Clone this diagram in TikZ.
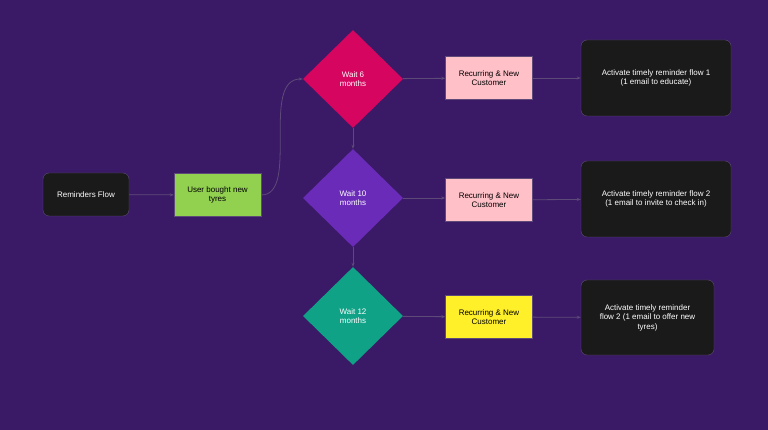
\documentclass[tikz,border=0pt]{standalone}
\usepackage{fontspec}
\setmainfont{Liberation Sans}
\usetikzlibrary{shapes.geometric,arrows.meta}
\definecolor{bg}{HTML}{3A1A66}
\definecolor{edge}{HTML}{5E4A78}
\definecolor{grn}{HTML}{92D050}
\definecolor{pk}{HTML}{FFC0C8}
\definecolor{yl}{HTML}{FFF02A}
\definecolor{mag}{HTML}{D6055F}
\definecolor{vio}{HTML}{6A2BB8}
\definecolor{teal}{HTML}{0FA287}
\definecolor{blk}{HTML}{1A1A1A}
\begin{document}
\begin{tikzpicture}[x=1pt,y=-1pt,font=\fontsize{8}{9.5}\selectfont,
  dark/.style={draw=edge,fill=blk,text=white,rounded corners=6pt,align=center,inner sep=0pt},
  lbox/.style={draw=edge,minimum width=87pt,minimum height=43pt,align=center,inner sep=0pt,text=black},
  dia/.style={diamond,minimum width=100pt,minimum height=98pt,inner sep=0pt,text=white,align=center,aspect=1},
  con/.style={draw=edge,line width=0.8pt,-{Stealth[length=4pt,width=3pt]}}]
\fill[bg] (0,0) rectangle (768,430);
\useasboundingbox (0,0) rectangle (768,430);
\node[dark,minimum width=86pt,minimum height=43pt] (rf) at (86,194.5) {Reminders Flow};
\node[lbox,fill=grn] (ub) at (217.5,195) {User bought new\\tyres};
\node[dia,fill=mag] (d1) at (353,79) {Wait 6\\months};
\node[dia,fill=vio] (d2) at (353,198) {Wait 10\\months};
\node[dia,fill=teal] (d3) at (353,316) {Wait 12\\months};
\node[lbox,fill=pk] (p1) at (489,78) {Recurring \& New\\Customer};
\node[lbox,fill=pk] (p2) at (489,200) {Recurring \& New\\Customer};
\node[lbox,fill=yl] (p3) at (489,317) {Recurring \& New\\Customer};
\node[dark,minimum width=150pt,minimum height=76pt] (a1) at (656,78) {Activate timely reminder flow 1\\(1 email to educate)};
\node[dark,minimum width=150pt,minimum height=76pt] (a2) at (656,199) {Activate timely reminder flow 2\\(1 email to invite to check in)};
\node[dark,minimum width=133pt,minimum height=75pt] (a3) at (647.5,317.5) {Activate timely reminder\\flow 2 (1 email to offer new\\tyres)};
\draw[con] (rf) -- (ub);
\draw[con] (ub.east) .. controls (300,195) and (260,79) .. (d1.west);
\draw[con] (d1) -- (d2);
\draw[con] (d2) -- (d3);
\draw[con] (d1) -- (p1);
\draw[con] (d2.east) -- (p2.west|-d2.east);
\draw[con] (d3) -- (p3);
\draw[con] (p1) -- (a1);
\draw[con] (p2) -- (a2);
\draw[con] (p3) -- (a3);
\end{tikzpicture}
\end{document}
